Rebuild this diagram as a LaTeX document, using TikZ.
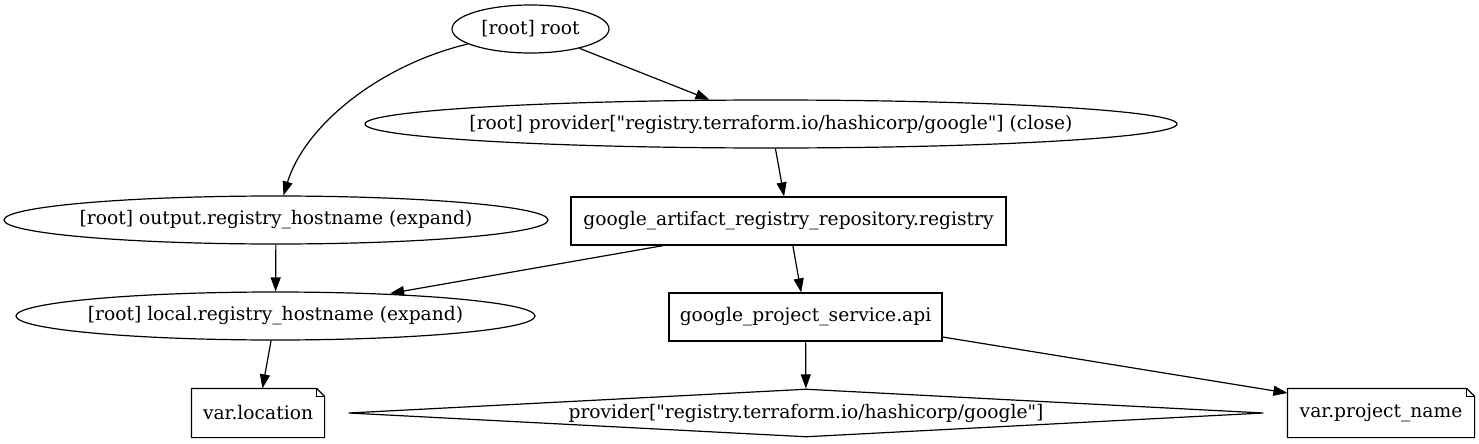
\documentclass[tikz,border=0pt]{standalone}
\usepackage{fontspec}
\newfontfamily\gvfont{DejaVu Serif}
\usetikzlibrary{shapes.geometric, arrows.meta}
\begin{document}
\begin{tikzpicture}[x=0.75pt, y=-0.75pt,
  every node/.style={font=\gvfont\fontsize{14pt}{16pt}\selectfont, inner sep=0pt, line width=0.9pt},
  oval/.style={draw, ellipse, minimum height=36pt},
  rbox/.style={draw, rectangle, minimum height=36pt},
  notebox/.style={rectangle, minimum height=36pt},
  dmd/.style={draw, diamond, minimum height=36pt},
  conn/.style={line width=0.9pt, -{Triangle[length=10.5pt,width=7.5pt]}}]
\useasboundingbox (0,0) rectangle (1479,443);

\node[oval, minimum width=117.75pt] (root) at (530.5,29) {\makebox[0pt]{[root] root}};
\node[oval, minimum width=609pt] (close) at (771,124) {\makebox[0pt]{[root] provider["registry.terraform.io/hashicorp/google"] (close)}};
\node[oval, minimum width=408pt] (output) at (276,220) {\makebox[0pt]{[root] output.registry\_hostname (expand)}};
\node[rbox, minimum width=326.25pt] (art) at (788.5,221) {\makebox[0pt]{google\_artifact\_registry\_repository.registry}};
\node[oval, minimum width=389.25pt] (local) at (275.5,316) {\makebox[0pt]{[root] local.registry\_hostname (expand)}};
\node[rbox, minimum width=204.75pt] (api) at (805.5,317) {\makebox[0pt]{google\_project\_service.api}};
\node[notebox, minimum width=99pt] (loc) at (258,413) {\makebox[0pt]{var.location}};
\node[dmd, minimum width=686.25pt] (prov) at (806,413) {\makebox[0pt]{provider["registry.terraform.io/hashicorp/google"]}};
\node[notebox, minimum width=139.5pt] (pname) at (1381,413) {\makebox[0pt]{var.project\_name}};

\foreach \n in {loc,pname}{
  \draw[line width=0.9pt] (\n.south west) -- (\n.south east) -- ([yshift=-6pt]\n.north east)
    -- ([xshift=-6pt]\n.north east) -- (\n.north west) -- cycle;
  \draw[line width=0.9pt] ([xshift=-6pt]\n.north east) -- ([xshift=-6pt,yshift=-6pt]\n.north east)
    -- ([yshift=-6pt]\n.north east);
}

\draw[conn] (root) -- (close);
\draw[conn] (root) .. controls (380,65) and (305,125) .. (output);
\draw[conn] (close) -- (art);
\draw[conn] (output) -- (local);
\draw[conn] ([xshift=-94pt]art.south) -- ([xshift=86pt,yshift=-1.5pt]local.north);
\draw[conn] (art) -- (api);
\draw[conn] (local) -- (loc);
\draw[conn] (api) -- (prov);
\draw[conn] ([yshift=-15pt]api.east) -- ([yshift=15pt]pname.west);
\end{tikzpicture}
\end{document}
